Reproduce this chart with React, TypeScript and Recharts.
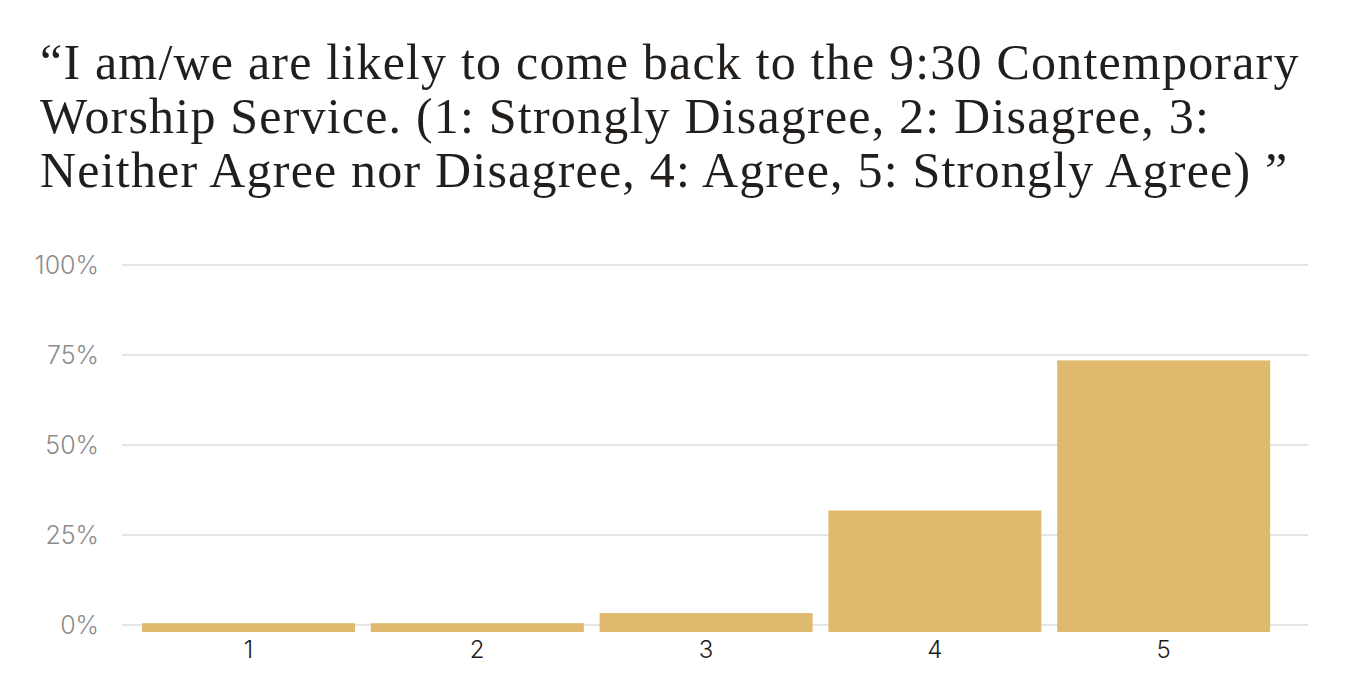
import React from 'react';
import { BarChart, Bar, XAxis, YAxis, CartesianGrid } from 'recharts';

const categories = ['1', '2', '3', '4', '5'];
const percentages = [0.5, 0.5, 3.3, 31.8, 73.5];
const yTicks = [0, 25, 50, 75, 100];
const titleLines = [
  '\u201CI am/we are likely to come back to the 9:30 Contemporary',
  'Worship Service. (1: Strongly Disagree, 2: Disagree, 3:',
  'Neither Agree nor Disagree, 4: Agree, 5: Strongly Agree) \u201D',
];

const data = categories.map((name, i) => ({ name, value: percentages[i] }));

const BAR_COLOR = '#dfb96e';
const SANS = 'Inter, "Noto Sans", sans-serif';

// bars run a few px past the zero line, like the source
function ExtendedBar(props: any) {
  const { x, y, width, height } = props;
  return <rect x={x} y={y} width={width} height={Math.max(height, 0) + 7} fill={BAR_COLOR} />;
}

export default function App() {
  return (
    <div style={{ position: 'absolute', top: 0, left: 0, width: 1352, height: 694, background: '#fff' }}>
      {titleLines.map((line, i) => (
        <div
          key={i}
          style={{
            position: 'absolute',
            left: 40,
            top: 34 + i * 54,
            fontFamily: '"Liberation Serif", serif',
            fontSize: 50,
            lineHeight: '56px',
            letterSpacing: 1.2,
            color: '#221e1b',
            whiteSpace: 'nowrap',
          }}
        >
          {line}
        </div>
      ))}
      <div style={{ position: 'absolute', top: 0, left: 0 }}>
        <BarChart
          width={1352}
          height={694}
          data={data}
          margin={{ top: 265, right: 44, bottom: 39, left: 0 }}
          barCategoryGap={8}
        >
          <CartesianGrid vertical={false} stroke="#dcdcdc" strokeWidth={1.5} />
          <XAxis
            dataKey="name"
            height={30}
            axisLine={false}
            tickLine={false}
            tickSize={0}
            tickMargin={16}
            padding={{ left: 12, right: 30 }}
            tick={{ fill: '#1f1b18', fontSize: 24, fontFamily: SANS, fontWeight: 300 }}
          />
          <YAxis
            width={122}
            domain={[0, 100]}
            ticks={yTicks}
            axisLine={false}
            tickLine={false}
            tickSize={0}
            tickMargin={23}
            tickFormatter={(v) => `${v}%`}
            tick={{ fill: '#8c8c8c', fontSize: 25, fontFamily: SANS, fontWeight: 300 }}
          />
          <Bar dataKey="value" fill={BAR_COLOR} shape={<ExtendedBar />} isAnimationActive={false} />
        </BarChart>
      </div>
    </div>
  );
}
